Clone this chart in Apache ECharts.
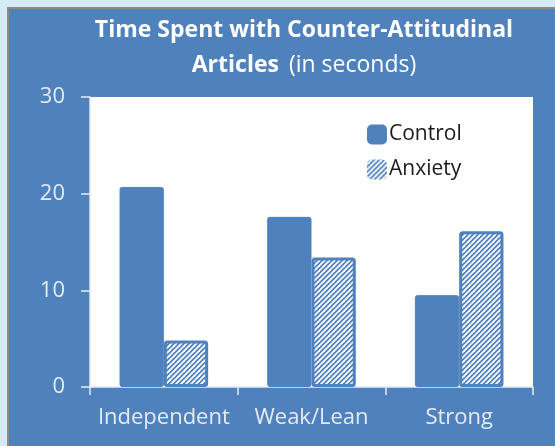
<!DOCTYPE html>
<html>
<head>
<meta charset="utf-8">
<script src="https://cdn.jsdelivr.net/npm/echarts@6/dist/echarts.min.js"></script>
<style>
  html, body { margin: 0; padding: 0; background: #d4ebf6; }
  #chart { width: 555px; height: 446px; }
</style>
</head>
<body>
<div id="chart"></div>
<script>
// Data
const categories = ['Independent', 'Weak/Lean', 'Strong'];
const controlValues = [20.7, 17.6, 9.5];
const anxietyValues = [4.8, 13.4, 16.1];
const yTicks = [0, 10, 20, 30];

const blue = '#4f81bd';
const light = '#e4ebf5';
const font = 'Open Sans';

// hatch pattern for Anxiety bars
const hatch = document.createElement('canvas');
hatch.width = 5; hatch.height = 5;
const hctx = hatch.getContext('2d');
hctx.fillStyle = blue;
hctx.fillRect(0, 0, 5, 5);
hctx.strokeStyle = '#ffffff';
hctx.lineWidth = 1.8;
[[-1, 1, 1, -1], [0, 5, 5, 0], [4, 6, 6, 4]].forEach(l => {
    hctx.beginPath();
    hctx.moveTo(l[0], l[1]);
    hctx.lineTo(l[2], l[3]);
    hctx.stroke();
});

let chart = echarts.init(document.getElementById('chart'));

let option = {
    backgroundColor: '#d4ebf6',
    animation: false,
    graphic: [
        {
            type: 'rect', z: -10,
            shape: { x: 8, y: 8, width: 560, height: 460 },
            style: { fill: blue, stroke: '#8a8a8a', lineWidth: 2 }
        },
        {
            type: 'text', x: 304, y: 13,
            style: {
                text: '{b|Time Spent with Counter-Attitudinal}\n{b|Articles}   {n|(in seconds)}',
                align: 'center',
                fill: '#ffffff',
                rich: {
                    b: { fontFamily: font, fontSize: 23, fontWeight: 'bold', fill: '#ffffff', lineHeight: 35 },
                    n: { fontFamily: font, fontSize: 23, fill: '#ffffff', lineHeight: 35 }
                }
            }
        }
    ],
    legend: {
        orient: 'vertical',
        left: 362,
        top: 119,
        itemWidth: 20,
        itemHeight: 20,
        itemGap: 14,
        itemStyle: { borderWidth: 0 },
        textStyle: { fontFamily: font, fontSize: 21, color: '#1a1a1a', padding: [0, 0, 0, -3] },
        data: ['Control', 'Anxiety']
    },
    grid: { left: 90, right: 22, top: 97, bottom: 59, show: true, backgroundColor: '#ffffff', borderWidth: 0 },
    xAxis: {
        type: 'category',
        data: categories,
        axisLine: { lineStyle: { color: light, width: 1.5 } },
        axisTick: { show: true, length: 8, lineStyle: { color: light, width: 1.5 } },
        axisLabel: { fontFamily: font, fontSize: 22, color: light, margin: 20, interval: 0 }
    },
    yAxis: {
        type: 'value',
        min: yTicks[0],
        max: yTicks[yTicks.length - 1],
        interval: 10,
        splitLine: { show: false },
        axisLine: { show: true, lineStyle: { color: light, width: 1.5 } },
        axisTick: { show: true, length: 9, lineStyle: { color: light, width: 1.5 } },
        axisLabel: { fontFamily: font, fontSize: 22, color: light, margin: 25 }
    },
    series: [
        {
            name: 'Control',
            type: 'bar',
            data: controlValues,
            barCategoryGap: '40%',
            barGap: '0%',
            itemStyle: { color: blue, borderColor: blue, borderWidth: 1, borderRadius: 2 }
        },
        {
            name: 'Anxiety',
            type: 'bar',
            data: anxietyValues,
            itemStyle: {
                color: { image: hatch, repeat: 'repeat' },
                borderColor: blue, borderWidth: 3, borderRadius: 2
            }
        }
    ]
};

chart.setOption(option);
</script>
</body>
</html>
